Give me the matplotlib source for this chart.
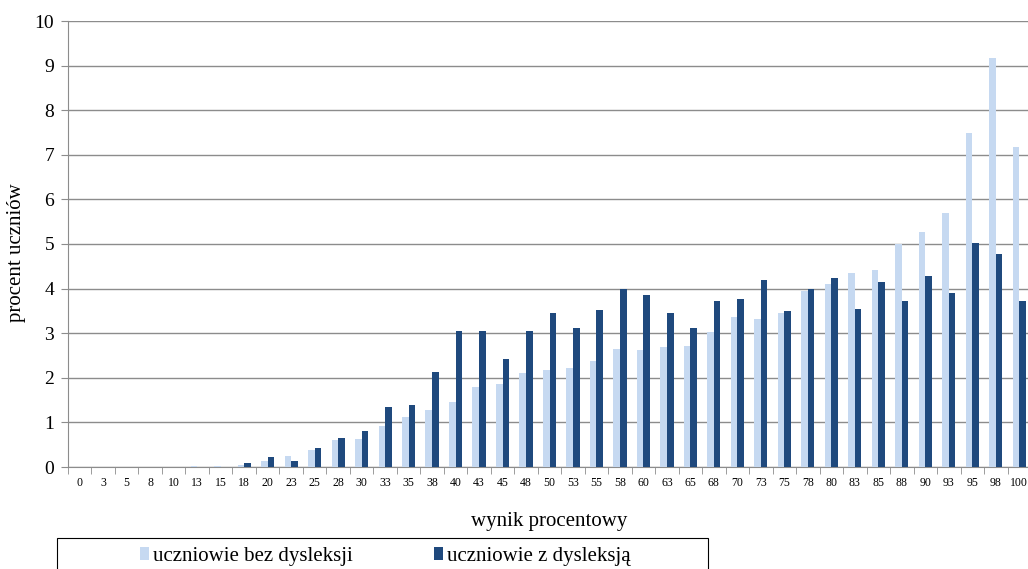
import matplotlib.pyplot as plt
from matplotlib.patches import Rectangle
import numpy as np

plt.rcParams['font.family'] = ['Liberation Serif', 'DejaVu Serif']

categories = ['0', '3', '5', '8', '10', '13', '15', '18', '20', '23', '25', '28', '30', '33',
              '35', '38', '40', '43', '45', '48', '50', '53', '55', '58', '60', '63', '65',
              '68', '70', '73', '75', '78', '80', '83', '85', '88', '90', '93', '95', '98', '100']

bez_dysleksji = [0, 0, 0, 0, 0, 0.03, 0.03, 0.05, 0.14, 0.25, 0.37, 0.6, 0.62, 0.93,
                 1.13, 1.28, 1.46, 1.79, 1.85, 2.11, 2.18, 2.21, 2.38, 2.65, 2.62, 2.69, 2.71,
                 3.02, 3.36, 3.31, 3.46, 3.95, 4.1, 4.36, 4.42, 4.99, 5.28, 5.69, 7.5, 9.18, 7.17]

z_dysleksja = [0, 0, 0, 0, 0, 0, 0, 0.09, 0.22, 0.14, 0.42, 0.64, 0.8, 1.35,
               1.39, 2.14, 3.06, 3.06, 2.42, 3.06, 3.45, 3.11, 3.53, 4.0, 3.86, 3.45, 3.11,
               3.72, 3.77, 4.19, 3.49, 4.0, 4.24, 3.54, 4.15, 3.72, 4.28, 3.9, 5.02, 4.78, 3.72]

light = '#C6D9F1'
dark = '#1F497D'

fig = plt.figure(figsize=(10.28, 5.69), dpi=100)
ax = fig.add_axes([68 / 1028, 102 / 569, 963 / 1028, 446 / 569])

x = np.arange(len(categories))
w = 0.28
ax.bar(x - w / 2, bez_dysleksji, width=w, color=light, label='uczniowie bez dysleksji', zorder=3)
ax.bar(x + w / 2, z_dysleksja, width=w, color=dark, label='uczniowie z dysleksją', zorder=3)

ax.set_xlim(-0.5, len(categories) - 0.5)
ax.set_ylim(0, 10)
ax.set_yticks(range(0, 11))
ax.yaxis.grid(True, color='#8c8c8c', linewidth=1, zorder=0)
ax.set_axisbelow(True)

ax.set_xticks(x)
ax.set_xticklabels(categories, fontsize=8.5)
ax.set_xticks(np.arange(-0.5, len(categories), 1), minor=True)
ax.tick_params(axis='x', which='major', length=0, pad=7)
ax.tick_params(axis='x', which='minor', length=5, color='#8c8c8c')
ax.tick_params(axis='y', labelsize=14, length=5, color='#8c8c8c', pad=5)

for s in ['top', 'right']:
    ax.spines[s].set_visible(False)
for s in ['left', 'bottom']:
    ax.spines[s].set_color('#8c8c8c')

ax.set_ylabel('procent uczniów', fontsize=15, labelpad=6)
ax.yaxis.label.set_y(0.48)
ax.set_xlabel('wynik procentowy', fontsize=15, labelpad=17)

fig.patches.append(Rectangle((57 / 1028, -0.05), 651 / 1028, 31 / 569 + 0.05,
                             transform=fig.transFigure, fill=False, edgecolor='black', linewidth=0.8))
fig.legend(loc='center left', bbox_to_anchor=(121 / 1028, 1 - 556 / 569), ncol=2, frameon=False,
           fontsize=15, handlelength=0.45, handleheight=0.6, handletextpad=0.2, columnspacing=3.87)

fig.savefig('out.png', dpi=100)
